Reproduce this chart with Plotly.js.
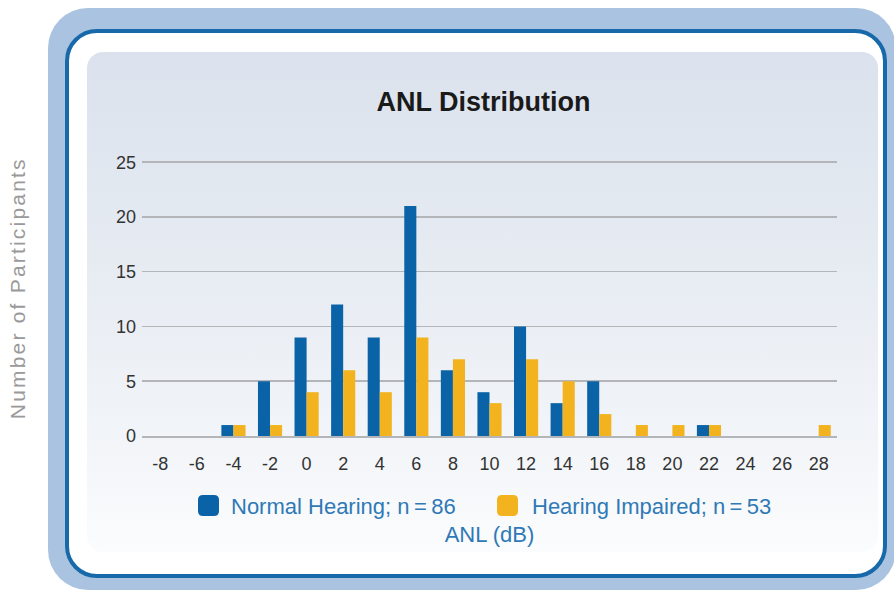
<!DOCTYPE html>
<html>
<head>
<meta charset="utf-8">
<script src="https://cdn.plot.ly/plotly-3.0.1.min.js"></script>
<style>
  html, body { margin: 0; padding: 0; background: #ffffff; width: 894px; height: 594px; overflow: hidden; }
  #outer { position: absolute; left: 48px; top: 8px; width: 848px; height: 582px; border-radius: 40px; background: #a9c3e1; }
  #inner { position: absolute; left: 65px; top: 29px; width: 822px; height: 549px; box-sizing: border-box; border: 4px solid #1769a9; border-radius: 32px; background: #ffffff; }
  #panel { position: absolute; left: 87px; top: 52px; width: 791px; height: 500px; border-radius: 16px;
           background: linear-gradient(180deg, #dbe2ed 0%, #e6ebf2 40%, #f1f4f8 75%, #fbfcfd 100%); }
  #chart { position: absolute; left: 0; top: 0; width: 894px; height: 594px; }
</style>
</head>
<body>
<div id="outer"></div>
<div id="inner"></div>
<div id="panel"></div>
<div id="chart"></div>
<script>
// ---- data ----
const categories = ['-8','-6','-4','-2','0','2','4','6','8','10','12','14','16','18','20','22','24','26','28'];
const normalHearing   = [0,0,1,5,9,12,9,21,6,4,10,3,5,0,0,1,0,0,0];
const hearingImpaired = [0,0,1,1,4,6,4,9,7,3,7,5,2,1,1,1,0,0,1];
const seriesNames = ['Normal Hearing; n\u2009=\u200986', 'Hearing Impaired; n\u2009=\u200953'];
const yTickValues = [0,5,10,15,20,25];
const chartTitle = 'ANL Distribution';
const xTitle = 'ANL (dB)';
const yTitle = 'Number of Participants';

// ---- style ----
const blue = '#0b63a7';
const yellow = '#f2b31e';
const legendTextColor = '#2f79b6';

// plot area in pixels
const W = 894, H = 594;
const L = 142, R = 837, T = 160, B = 436;
const px = v => (v - L) / (R - L);
const py = v => (B - v) / (B - T);

function roundRect(x0, y0, x1, y1, r) {
  const X0 = px(x0), X1 = px(x1), Y0 = py(y0), Y1 = py(y1);
  const rx = r / (R - L), ry = r / (B - T);
  return `M${X0+rx},${Y0} L${X1-rx},${Y0} Q${X1},${Y0} ${X1},${Y0-ry} L${X1},${Y1+ry} Q${X1},${Y1} ${X1-rx},${Y1} L${X0+rx},${Y1} Q${X0},${Y1} ${X0},${Y1+ry} L${X0},${Y0-ry} Q${X0},${Y0} ${X0+rx},${Y0} Z`;
}

const traces = [
  { type: 'bar', name: seriesNames[0], x: categories, y: normalHearing, marker: { color: blue, line: { width: 0 } }, hoverinfo: 'x+y+name' },
  { type: 'bar', name: seriesNames[1], x: categories, y: hearingImpaired, marker: { color: yellow, line: { width: 0 } }, hoverinfo: 'x+y+name' }
];

const legendItems = [
  { sx0: 198, color: blue, tx: 229, text: seriesNames[0] },
  { sx0: 497, color: yellow, tx: 530, text: seriesNames[1] }
];

const shapes = legendItems.map(it => ({
  type: 'path', xref: 'paper', yref: 'paper',
  path: roundRect(it.sx0, 495, it.sx0 + 21, 516, 5),
  fillcolor: it.color, line: { width: 0 }
}));

const annotations = legendItems.map(it => ({
  xref: 'paper', yref: 'paper', x: px(it.tx), y: py(506),
  xanchor: 'left', yanchor: 'middle', showarrow: false, text: it.text,
  font: { family: 'Liberation Sans, Arial, sans-serif', size: 22, color: legendTextColor }
}));

annotations.push({
  xref: 'paper', yref: 'paper', x: px(17), y: py(288),
  xanchor: 'center', yanchor: 'middle', showarrow: false, textangle: -90,
  text: yTitle,
  font: { family: 'Liberation Sans, Arial, sans-serif', size: 21, color: '#9a9a9a' }
});

const layout = {
  width: W, height: H,
  margin: { l: L, r: W - R, t: T, b: H - B, pad: 0 },
  paper_bgcolor: 'rgba(0,0,0,0)',
  plot_bgcolor: 'rgba(0,0,0,0)',
  showlegend: false,
  barmode: 'group',
  bargap: 0.34,
  bargroupgap: 0,
  title: {
    text: '<b>' + chartTitle + '</b>',
    xref: 'container', yref: 'container', x: 483.5 / W, y: 1 - 102 / H,
    xanchor: 'center', yanchor: 'middle',
    font: { family: 'Liberation Sans, Arial, sans-serif', size: 27, color: '#1a1a1a' }
  },
  xaxis: {
    type: 'category',
    range: [-0.5, categories.length - 0.5],
    showgrid: false, zeroline: false,
    showline: true, linecolor: '#b4b5b9', linewidth: 1.5,
    ticks: '', ticklabelstandoff: 11,
    tickfont: { family: 'Liberation Sans, Arial, sans-serif', size: 18, color: '#333333' },
    title: { text: xTitle, standoff: 53, font: { family: 'Liberation Sans, Arial, sans-serif', size: 22, color: legendTextColor } },
    fixedrange: true
  },
  yaxis: {
    range: [0, 25.2],
    tickvals: yTickValues,
    showgrid: true, gridcolor: '#b4b5b9', gridwidth: 1.5,
    zeroline: false, showline: false,
    ticks: '', ticklabelstandoff: 5,
    tickfont: { family: 'Liberation Sans, Arial, sans-serif', size: 18, color: '#333333' },
    fixedrange: true
  },
  shapes: shapes,
  annotations: annotations
};

Plotly.newPlot('chart', traces, layout, { displayModeBar: false, staticPlot: true }).then(() => {
  document.querySelectorAll('.annotation-text').forEach(el => {
    if (el.textContent === yTitle) el.style.letterSpacing = '2.2px';
  });
});
</script>
</body>
</html>
